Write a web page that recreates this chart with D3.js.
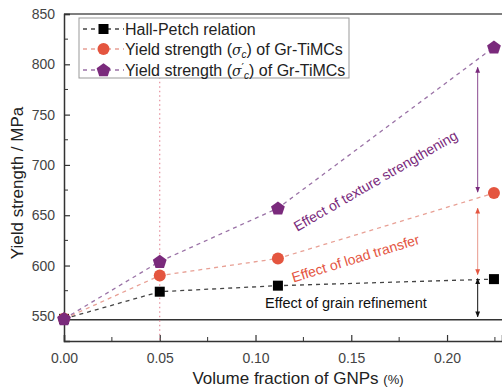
<!DOCTYPE html>
<html>
<head>
<meta charset="utf-8">
<script src="https://cdn.jsdelivr.net/npm/d3@7"></script>
<style>
  body { margin: 0; background: #fff; }
  svg text { font-family: "Liberation Sans", Arial, sans-serif; }
</style>
</head>
<body>
<svg id="chart" width="502" height="389"></svg>
<script>
// data
const fractions = [0, 0.05, 0.1117, 0.2245];
const hallPetch = [547, 574, 580, 586.5];
const yieldC = [547, 590, 607, 672];
const yieldC2 = [547, 604, 657, 817];
const yTicks = [550, 600, 650, 700, 750, 800, 850];
const yMinor = [575, 625, 675, 725, 775, 825];
const xTicks = [0, 0.05, 0.10, 0.15, 0.20];
const xMinor = [0.025, 0.075, 0.125, 0.175, 0.225];
const baseline = 546;
// arrows at x = 0.216 : [from, to]
const arrowX = 0.216;
const arrowSpans = [[549, 587], [591, 657], [673, 797]];

const svg = d3.select('#chart');
const margin = {left: 64, top: 14, bottom: 341, right: 502};

const x = d3.scaleLinear().domain([0, 0.2287]).range([margin.left, margin.right]);
const y = d3.scaleLinear().domain([525, 850]).range([margin.bottom, margin.top]);

const series = [
  {name: 'hp', values: hallPetch, marker: '#000', line: '#444', shape: 'square'},
  {name: 'c', values: yieldC, marker: '#e4553f', line: '#e8a095', shape: 'circle'},
  {name: 'c2', values: yieldC2, marker: '#7a2a7c', line: '#9a72a6', shape: 'pentagon'}
];

// arrow markers
const defs = svg.append('defs');
const arrowColors = {k: '#111', r: '#e4553f', p: '#7a2a7c'};
Object.entries(arrowColors).forEach(([k, c]) => {
  defs.append('marker')
    .attr('id', 'ah-' + k)
    .attr('viewBox', '0 0 10 10')
    .attr('refX', 9).attr('refY', 5)
    .attr('markerWidth', 6).attr('markerHeight', 8)
    .attr('orient', 'auto-start-reverse')
    .append('path')
    .attr('d', 'M0,1 L10,5 L0,9 Z')
    .attr('fill', c);
});

// top frame
svg.append('line')
  .attr('x1', margin.left).attr('x2', margin.right)
  .attr('y1', margin.top).attr('y2', margin.top)
  .attr('stroke', '#555').attr('stroke-width', 1.5);

// axes
const yAxis = d3.axisLeft(y).tickValues(yTicks).tickSize(-6).tickPadding(9);
const gy = svg.append('g').attr('transform', `translate(${margin.left},0)`).call(yAxis);
const xAxis = d3.axisBottom(x).tickValues(xTicks).tickSize(-6).tickPadding(12).tickFormat(d3.format('.2f'));
const gx = svg.append('g').attr('transform', `translate(0,${margin.bottom})`).call(xAxis);

[gy, gx].forEach(g => {
  g.select('.domain').attr('stroke', '#333').attr('stroke-width', 1.5);
  g.selectAll('.tick line').attr('stroke', '#333').attr('stroke-width', 1.2);
  g.selectAll('.tick text').attr('fill', '#444').attr('font-size', 14);
});

// minor ticks
svg.append('g').selectAll('line')
  .data(yMinor)
  .join('line')
  .attr('x1', margin.left).attr('x2', margin.left + 4)
  .attr('y1', d => y(d)).attr('y2', d => y(d))
  .attr('stroke', '#333');
svg.append('g').selectAll('line')
  .data(xMinor)
  .join('line')
  .attr('x1', d => x(d)).attr('x2', d => x(d))
  .attr('y1', margin.bottom).attr('y2', margin.bottom - 4)
  .attr('stroke', '#333');

// axis titles
svg.append('text')
  .attr('transform', `translate(23,183) rotate(-90)`)
  .attr('text-anchor', 'middle')
  .attr('font-size', 17).attr('fill', '#222')
  .text('Yield strength / MPa');
const xt = svg.append('text')
  .attr('x', 298).attr('y', 384)
  .attr('text-anchor', 'middle')
  .attr('font-size', 17).attr('fill', '#222');
xt.append('tspan').text('Volume fraction of GNPs ');
xt.append('tspan').attr('font-size', 13).text('(%)');

// baseline
svg.append('line')
  .attr('x1', margin.left).attr('x2', margin.right)
  .attr('y1', y(baseline)).attr('y2', y(baseline))
  .attr('stroke', '#333').attr('stroke-width', 1.5);

// vertical dotted line at 0.05
svg.append('line')
  .attr('x1', x(0.05)).attr('x2', x(0.05))
  .attr('y1', y(805)).attr('y2', margin.bottom)
  .attr('stroke', '#e07a8a').attr('stroke-width', 1)
  .attr('stroke-dasharray', '1.5,3');

// dashed lines
const line = d3.line().x((d, i) => x(fractions[i])).y(d => y(d));
series.forEach(s => {
  svg.append('path')
    .datum(s.values)
    .attr('d', line)
    .attr('fill', 'none')
    .attr('stroke', s.line)
    .attr('stroke-width', 1.3)
    .attr('stroke-dasharray', '4,4');
});

// arrows
const arrowKeys = ['k', 'r', 'p'];
const arrowLineColors = ['#111', '#e89a8e', '#8a4a90'];
arrowSpans.forEach((sp, i) => {
  svg.append('line')
    .attr('x1', x(arrowX)).attr('x2', x(arrowX))
    .attr('y1', y(sp[0])).attr('y2', y(sp[1]))
    .attr('stroke', arrowLineColors[i]).attr('stroke-width', 1)
    .attr('marker-start', `url(#ah-${arrowKeys[i]})`)
    .attr('marker-end', `url(#ah-${arrowKeys[i]})`);
});

// pentagon symbol
const symbolPentagon = {
  draw(context, size) {
    const r = Math.sqrt(size / 2.378);
    for (let i = 0; i < 5; i++) {
      const a = -Math.PI / 2 + i * 2 * Math.PI / 5;
      if (i === 0) context.moveTo(r * Math.cos(a), r * Math.sin(a));
      else context.lineTo(r * Math.cos(a), r * Math.sin(a));
    }
    context.closePath();
  }
};

// markers
function drawMarker(g, shape, color, cx, cy) {
  if (shape === 'square') {
    g.append('rect').attr('x', cx - 5).attr('y', cy - 5).attr('width', 10).attr('height', 10).attr('fill', color);
  } else if (shape === 'circle') {
    g.append('circle').attr('cx', cx).attr('cy', cy).attr('r', 6).attr('fill', color);
  } else {
    g.append('path')
      .attr('d', d3.symbol().type(symbolPentagon).size(125)())
      .attr('transform', `translate(${cx},${cy + 0.5})`)
      .attr('fill', color);
  }
}
const markG = svg.append('g');
series.forEach(s => {
  s.values.forEach((v, i) => drawMarker(markG, s.shape, s.marker, x(fractions[i]), y(v)));
});

// annotations
svg.append('text')
  .attr('transform', `translate(378,185) rotate(-30)`)
  .attr('text-anchor', 'middle')
  .attr('font-size', 14).attr('fill', '#7a2a7c')
  .text('Effect of texture strengthening');
svg.append('text')
  .attr('transform', `translate(357,263) rotate(-17)`)
  .attr('text-anchor', 'middle')
  .attr('font-size', 14).attr('fill', '#e4553f')
  .text('Effect of load transfer');
svg.append('text')
  .attr('x', 265).attr('y', 308)
  .attr('font-size', 14.5).attr('fill', '#111')
  .text('Effect of grain refinement');

// legend
const lg = svg.append('g');
lg.append('rect')
  .attr('x', 79).attr('y', 18).attr('width', 270).attr('height', 60)
  .attr('fill', '#fff').attr('stroke', '#999').attr('stroke-width', 1);
const legendRows = [
  {s: series[0], y: 29},
  {s: series[1], y: 49},
  {s: series[2], y: 70}
];
legendRows.forEach(r => {
  lg.append('line')
    .attr('x1', 83).attr('x2', 124).attr('y1', r.y).attr('y2', r.y)
    .attr('stroke', r.s.line).attr('stroke-width', 1.3).attr('stroke-dasharray', '4,4');
  drawMarker(lg, r.s.shape, r.s.marker, 103.5, r.y);
});
const lt = (yy) => lg.append('text').attr('x', 125).attr('y', yy + 5.5).attr('font-size', 16).attr('fill', '#222');
lt(29).text('Hall-Petch relation');
const t2 = lt(49);
t2.append('tspan').text('Yield strength (');
t2.append('tspan').attr('font-family', 'DejaVu Serif').attr('font-style', 'italic').attr('font-size', 14).text('σ');
t2.append('tspan').attr('font-style', 'italic').attr('font-size', 10).attr('dy', 3).text('c');
t2.append('tspan').attr('dy', -3).text(') of Gr-TiMCs');
const t3 = lt(70);
t3.append('tspan').text('Yield strength (');
t3.append('tspan').attr('font-family', 'DejaVu Serif').attr('font-style', 'italic').attr('font-size', 14).text('σ');
t3.append('tspan').attr('font-family', 'DejaVu Sans').attr('font-size', 11).attr('dy', -5).text('\u2032');
t3.append('tspan').attr('font-style', 'italic').attr('font-size', 10).attr('dy', 8).text('c');
t3.append('tspan').attr('dy', -3).text(') of Gr-TiMCs');
</script>
</body>
</html>
